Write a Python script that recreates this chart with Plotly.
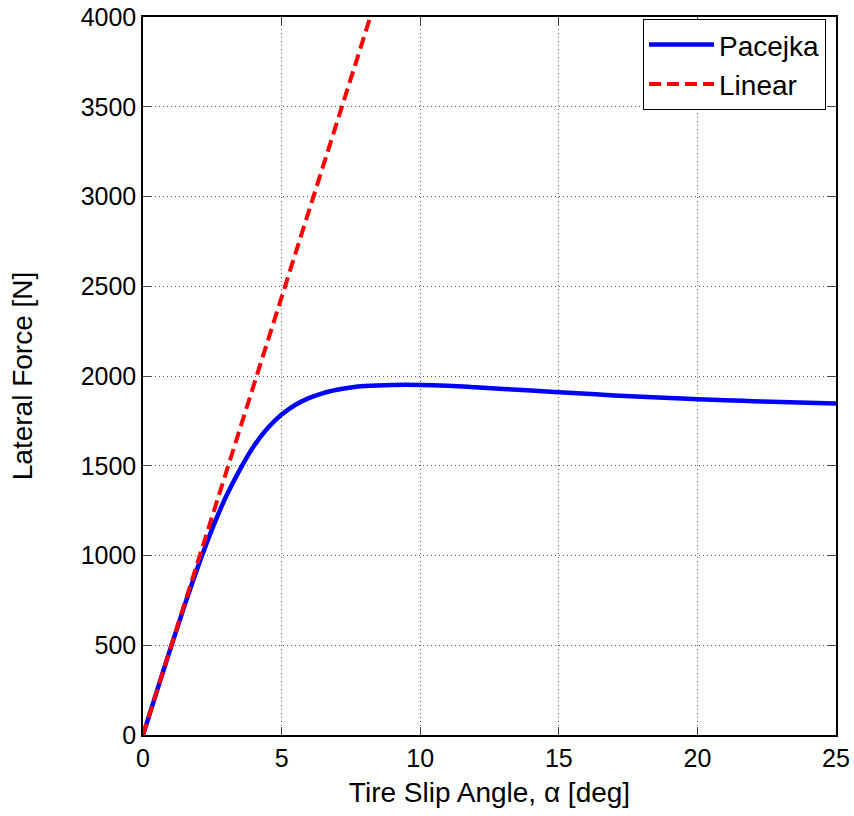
import plotly.graph_objects as go

# Pacejka tire curve
slip_deg = [0, 0.5, 1, 1.5, 2, 2.5, 3, 3.5, 4, 4.5, 5, 5.5, 6, 6.5, 7, 7.5, 8, 9, 10,
            11, 12, 13, 14, 15, 16, 17, 18, 19, 20, 21, 22, 23, 24, 25]
pacejka_force = [0, 244, 486, 722, 945, 1150, 1330, 1480, 1610, 1710, 1785, 1840, 1878,
                 1905, 1923, 1936, 1944, 1950, 1950, 1945, 1937, 1928, 1919, 1910, 1901,
                 1892, 1884, 1877, 1871, 1865, 1860, 1855, 1851, 1847]

# Linear tire model
linear_slip = [0, 8.2]
linear_force = [0, 4000]

x_ticks = [0, 5, 10, 15, 20, 25]
y_ticks = [0, 500, 1000, 1500, 2000, 2500, 3000, 3500, 4000]

FONT = "Liberation Sans, Arial, Helvetica, sans-serif"

fig = go.Figure()
fig.add_trace(go.Scatter(x=slip_deg, y=pacejka_force, mode="lines", name="Pacejka",
                         line=dict(color="#0000ff", width=4.5, shape="spline")))
fig.add_trace(go.Scatter(x=linear_slip, y=linear_force, mode="lines", name="Linear",
                         line=dict(color="#ff0000", width=4, dash="12px,6px")))

axis_common = dict(
    showline=True, linecolor="black", linewidth=1.5, mirror="ticks",
    ticks="inside", ticklen=8, tickcolor="#444444", tickwidth=1,
    showgrid=True, gridcolor="#555555", griddash="1px,3px", gridwidth=1,
    zeroline=False, automargin=False, ticklabeloverflow="allow",
    tickfont=dict(family=FONT, size=25, color="black"),
)

fig.update_layout(
    width=854, height=816,
    paper_bgcolor="white", plot_bgcolor="white",
    margin=dict(l=143, r=18, t=17, b=81),
    font=dict(family=FONT, color="black"),
    xaxis=dict(range=[0, 25], tickvals=x_ticks, **axis_common,
               title=dict(text="Tire Slip Angle, α [deg]", font=dict(family=FONT, size=28), standoff=12)),
    yaxis=dict(range=[0, 4000], tickvals=y_ticks, **axis_common,
               title=dict(text="Lateral Force [N]", font=dict(family=FONT, size=28), standoff=40)),
    legend=dict(x=0.9856, y=0.934, xanchor="right", yanchor="middle",
                bgcolor="white", bordercolor="black", borderwidth=1,
                font=dict(family=FONT, size=28, color="black"),
                itemwidth=65, tracegroupgap=0),
    showlegend=True,
)

# remove the default 8px page margin so the figure fills the window exactly
fig.write_html("out.html",
               config={"displayModeBar": False},
               post_script="document.body.style.margin='0';document.body.style.overflow='hidden';")
